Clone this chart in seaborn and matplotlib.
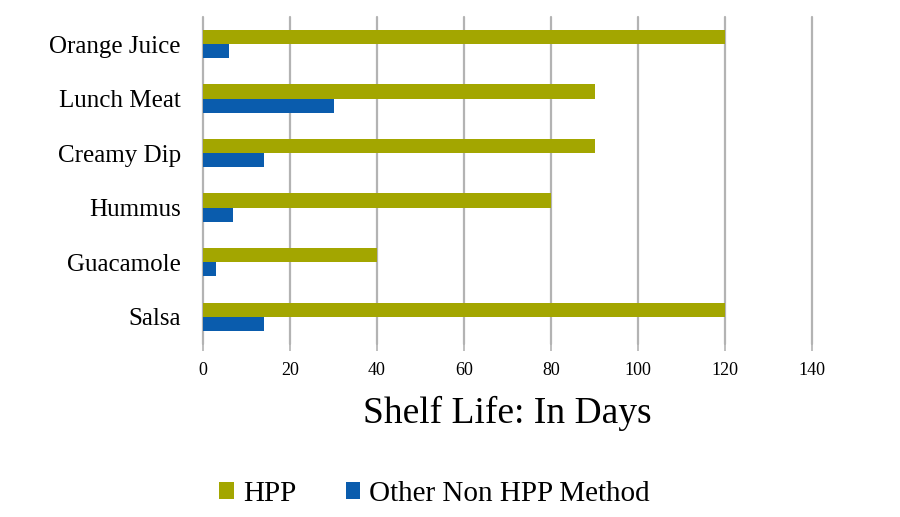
import pandas as pd
import seaborn as sns
import matplotlib.pyplot as plt

# Shelf life data (days)
foods = ["Orange Juice", "Lunch Meat", "Creamy Dip", "Hummus", "Guacamole", "Salsa"]
hpp_days = [120, 90, 90, 80, 40, 120]
other_days = [6, 30, 14, 7, 3, 14]
methods = ["HPP", "Other Non HPP Method"]
x_ticks = [0, 20, 40, 60, 80, 100, 120, 140]

df = pd.DataFrame({
    "food": foods * 2,
    "days": hpp_days + other_days,
    "method": [methods[0]] * len(foods) + [methods[1]] * len(foods),
})

sns.set_theme(style="white")
plt.rcParams["font.family"] = ["Liberation Serif", "DejaVu Serif"]
plt.rcParams["text.color"] = "black"
plt.rcParams["xtick.color"] = "black"
plt.rcParams["ytick.color"] = "black"
plt.rcParams["axes.labelcolor"] = "black"

fig = plt.figure(figsize=(9, 5.17), dpi=100)
ax = fig.add_axes([0.2256, 0.3346, 0.6767, 0.633])

sns.barplot(
    data=df, y="food", x="days", hue="method", order=foods, hue_order=methods,
    palette=["#a3a600", "#0a5cad"], orient="h", width=0.52, ax=ax,
    edgecolor="none", saturation=1,
)

ax.set_xlim(0, 140)
ax.set_xticks(x_ticks)
ax.set_xticklabels([str(t) for t in x_ticks], fontsize=13)
ax.grid(axis="x", color="#b3b3b3", linewidth=1.6)
for line in ax.xaxis.get_gridlines():
    line.set_clip_on(False)
ax.set_axisbelow(True)
for side in ["top", "right", "bottom", "left"]:
    ax.spines[side].set_visible(False)
ax.tick_params(axis="x", bottom=True, length=5, color="#b3b3b3", width=1.2, pad=8)
ax.tick_params(axis="y", left=False, labelsize=18, pad=10)
ax.set_ylabel("")
ax.set_xlabel("Shelf Life: In Days", fontsize=27, labelpad=12)

ax.legend(
    loc="center", bbox_to_anchor=(0.38, -0.458), ncol=2, frameon=False,
    fontsize=21, handlelength=0.5, handleheight=0.5, handletextpad=0.3,
    columnspacing=1.7,
)

fig.savefig("out.png", dpi=100)
